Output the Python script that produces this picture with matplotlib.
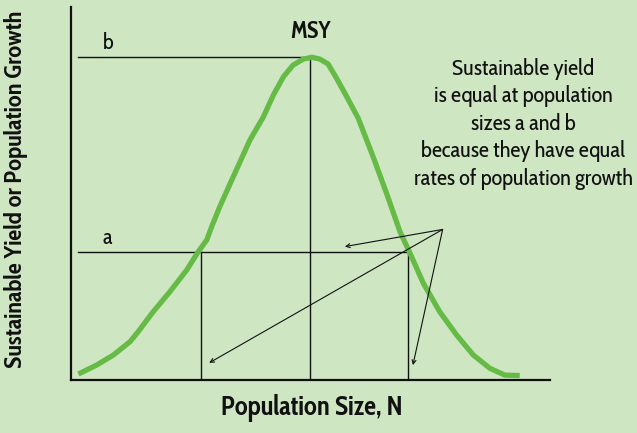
import matplotlib
matplotlib.use("Agg")
import matplotlib.pyplot as plt

# curva de rendimiento (N vs crecimiento)
pop_size = [1.6, 5.4, 8.9, 12.4, 14.1, 17.2, 20.7, 24.2, 26.6, 28.4, 29.4, 31.1, 33.9, 37.4,
            40.2, 42.3, 44.4, 46.4, 48.5, 50.3, 52.0, 53.7, 55.5, 57.6, 60.0, 63.1, 65.9,
            68.7, 70.8, 73.6, 77.0, 80.5, 84.0, 87.5, 90.6, 93.7]
growth = [1.6, 4.0, 6.7, 10.3, 13.0, 18.3, 23.7, 29.5, 34.4, 37.6, 41.1, 46.5, 54.5, 64.4,
          70.6, 76.5, 81.4, 84.5, 86.1, 86.6, 86.1, 84.8, 80.9, 76.0, 70.2, 59.9, 50.1,
          39.8, 34.0, 25.9, 18.3, 12.1, 6.7, 3.1, 1.3, 1.2]

n_a = 27.1       # poblacion a (lado izquierdo)
n_msy = 50.0     # N en el maximo
n_b = 70.4       # poblacion a (lado derecho)
y_a = 34.3
y_msy = 86.7

arrow_from = (77.6, 40.4)
arrow_to = [(57.2, 35.8), (28.9, 4.6), (71.4, 4.0)]

texto = ("Sustainable yield\nis equal at population\nsizes a and b\n"
         "because they have equal\nrates of population growth")

bg = "#cfe6c3"
verde = "#66bb47"
negro = "#111111"
fuente = "Cabin Condensed"

fig = plt.figure(figsize=(6.37, 4.33), dpi=100, facecolor=bg)
ax = fig.add_axes([0.111, 0.1224, 0.7524, 0.8607])
ax.set_facecolor(bg)
ax.set_xlim(0, 100)
ax.set_ylim(0, 100)

for s in ["top", "right"]:
    ax.spines[s].set_visible(False)
for s in ["left", "bottom"]:
    ax.spines[s].set_linewidth(1.6)
    ax.spines[s].set_color(negro)
ax.set_xticks([])
ax.set_yticks([])

# lineas de referencia
ax.plot([1.5, n_msy], [y_msy, y_msy], color=negro, lw=1.0)
ax.plot([1.5, n_b], [y_a, y_a], color=negro, lw=1.0)
ax.plot([n_a, n_a], [0, y_a], color=negro, lw=1.0)
ax.plot([n_msy, n_msy], [0, y_msy], color=negro, lw=1.0)
ax.plot([n_b, n_b], [0, y_a], color=negro, lw=1.0)

ax.plot(pop_size, growth, color=verde, lw=3.8, solid_capstyle="butt", solid_joinstyle="round", zorder=3)

for tip in arrow_to:
    ax.annotate("", xy=tip, xytext=arrow_from,
                arrowprops=dict(arrowstyle="->", color=negro, lw=0.8,
                                mutation_scale=7, shrinkA=0, shrinkB=0), zorder=4)

ax.text(7.8, 90.4, "b", family=fuente, fontsize=16, color=negro, ha="center", va="center")
ax.text(7.7, 38.1, "a", family=fuente, fontsize=16, color=negro, ha="center", va="center")
ax.text(n_msy, 93.4, "MSY", family=fuente, fontsize=16.5, fontweight="bold", color=negro,
        ha="center", va="center", clip_on=False)

fig.text(0.821, 0.714, texto, family=fuente, fontsize=16.2, color=negro,
         ha="center", va="center", linespacing=1.32)

fig.text(0.49, 0.058, "Population Size, N", family=fuente, fontsize=19, fontweight="bold",
         color=negro, ha="center", va="center")
fig.text(0.025, 0.5635, "Sustainable Yield or Population Growth", family=fuente,
         fontsize=17.5, fontweight="bold", color=negro, ha="center", va="center", rotation=90)

fig.savefig("out.png", dpi=100, facecolor=bg)
